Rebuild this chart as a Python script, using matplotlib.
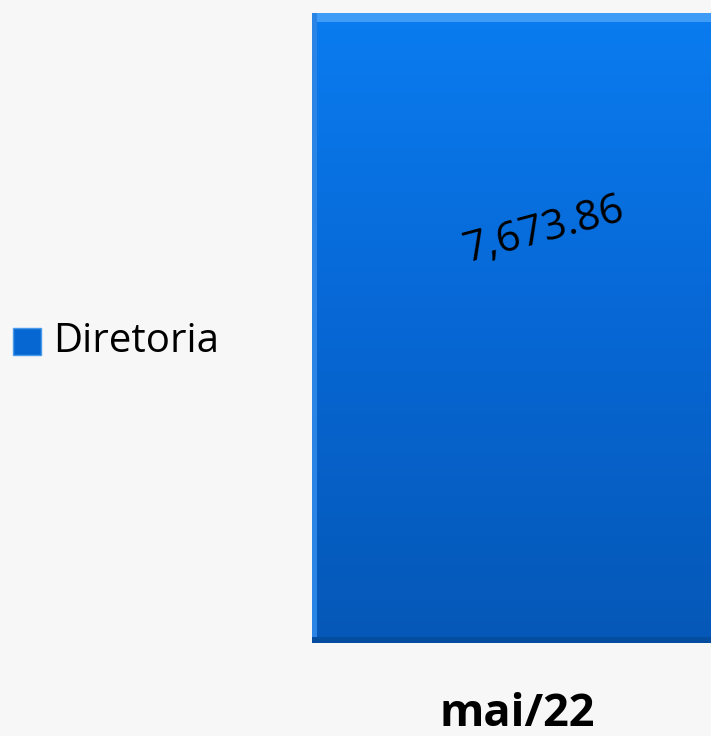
import matplotlib
matplotlib.use("Agg")
import matplotlib.pyplot as plt
import numpy as np
from matplotlib.patches import Rectangle
from matplotlib.colors import LinearSegmentedColormap

categories = ["mai/22"]
series_name = "Diretoria"
values = [7673.86]
value_labels = ["7,673.86"]

W, H = 711, 736
fig = plt.figure(figsize=(W/100, H/100), dpi=100)
fig.patch.set_facecolor("#F7F7F7")

left, right, top, bottom = 312, 711, 13, 643
ax = fig.add_axes([left/W, (H-bottom)/H, (right-left)/W, (bottom-top)/H])
ax.set_facecolor("none")
bar_w = 1.0
bar_px = 410
ax.set_xlim(-0.5, -0.5 + (right-left)/bar_px)
ax.set_ylim(0, values[0])
for s in ax.spines.values():
    s.set_visible(False)
ax.set_yticks([])
ax.set_xticks([])

bars = ax.bar(range(len(categories)), values, width=bar_w, color="#0767D2",
              edgecolor="none", label=series_name, zorder=1)
cmap = LinearSegmentedColormap.from_list("g", ["#0558B7", "#0767D4", "#0A7CF0"])
for b in bars:
    x0, y0 = b.get_x(), b.get_y()
    w, h = b.get_width(), b.get_height()
    grad = np.linspace(0, 1, 256).reshape(-1, 1)
    im = ax.imshow(grad, cmap=cmap, extent=[x0, x0+w, y0, y0+h], aspect="auto",
                   origin="lower", zorder=2)
    im.set_clip_path(b)
    # bevel highlights
    ax.add_patch(Rectangle((x0, y0+h*0.985), w, h*0.015, color="#3E9BF6", zorder=3, lw=0))
    ax.add_patch(Rectangle((x0, y0), 0.012, h, color="#2A84E6", zorder=3, lw=0))
    ax.add_patch(Rectangle((x0, y0), w, h*0.01, color="#044C9E", zorder=3, lw=0))

for i, (v, lab) in enumerate(zip(values, value_labels)):
    ax.text(i + 0.065, v*0.655, lab, rotation=15, ha="center", va="center",
            fontsize=30, family="Open Sans", color="black", zorder=5)

fig.text(517/W, 1 - 714/H, categories[0], ha="center", va="center",
         fontsize=32.5, fontweight="bold", family="Open Sans", color="black")

# legend
fig.patches.append(Rectangle((13/W, 1-355/H), 28/W, 27/H, transform=fig.transFigure,
                             facecolor="#0767D2", edgecolor="#4A9BEA", lw=1))
fig.text(53/W, 1 - 342/H, series_name, ha="left", va="center",
         fontsize=29, family="Open Sans", color="black")

fig.savefig("out.png", dpi=100, facecolor=fig.get_facecolor())
